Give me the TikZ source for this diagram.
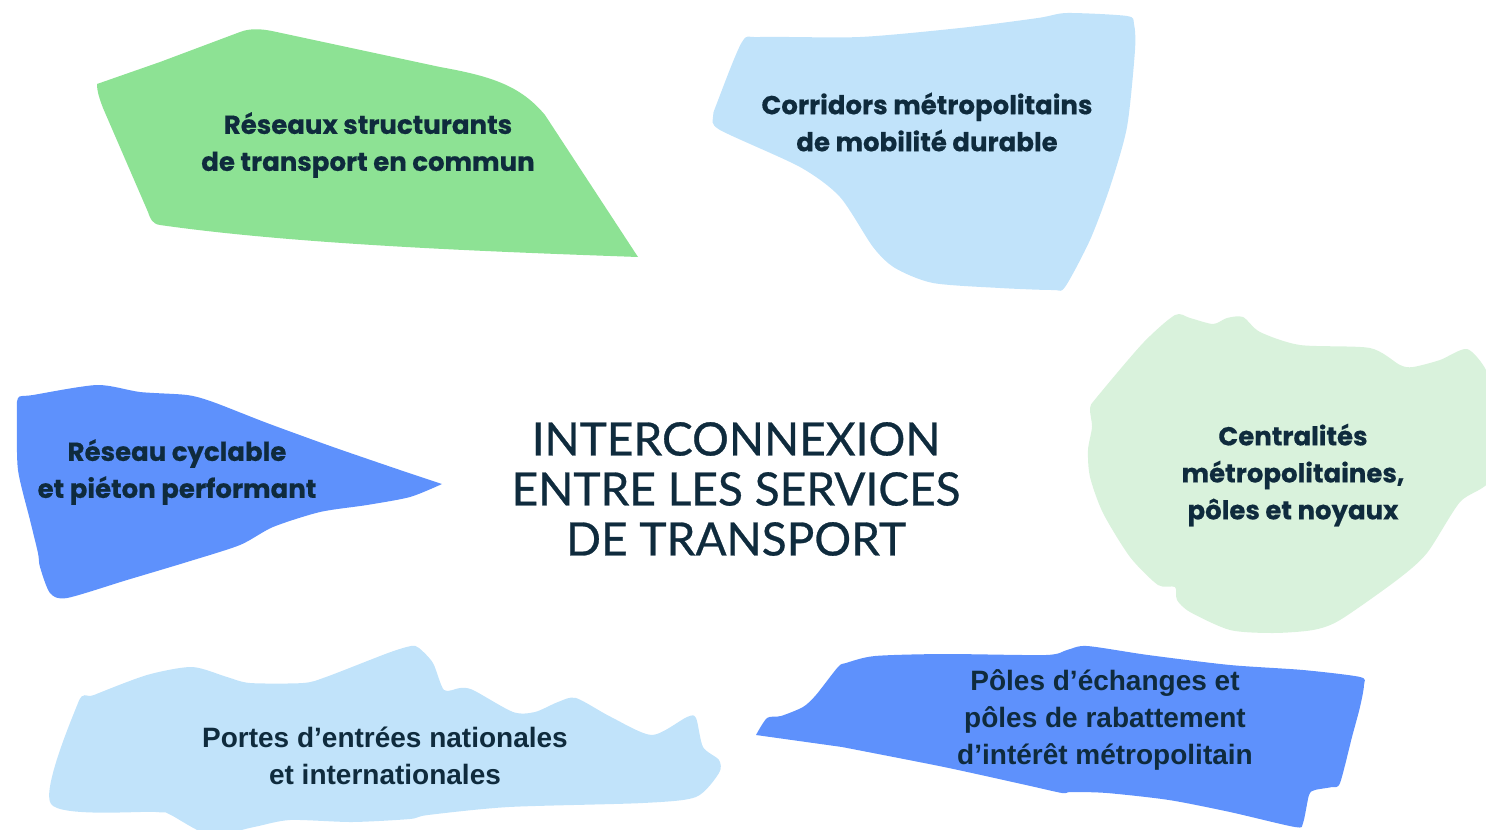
\documentclass[tikz,border=0pt]{standalone}
\usepackage{fontspec}
\setmainfont{Poppins}[BoldFeatures={FakeBold=0.5}]
\newfontfamily\titlefont{Lato}[FakeBold=0.6]
\newfontfamily\narrowfont{Liberation Sans}

\definecolor{ink}{RGB}{15,43,61}
\definecolor{leafgreen}{RGB}{141,226,148}
\definecolor{paleblue}{RGB}{193,227,250}
\definecolor{palegreen}{RGB}{217,242,220}
\definecolor{brightblue}{RGB}{94,145,252}

\tikzset{every picture/.style={line width=0.75pt},
  wide label/.style={align=center, text=ink, inner sep=0.75pt, font=\bfseries\fontsize{19.5}{27.75}\selectfont},
  narrow label/.style={align=center, text=ink, inner sep=0.75pt, font=\narrowfont\bfseries\fontsize{21}{27.75}\selectfont},
  title label/.style={align=center, text=ink, inner sep=0.75pt, font=\titlefont\fontsize{34.5}{37.5}\selectfont}}

\begin{document}
\begin{tikzpicture}[x=0.75pt,y=0.75pt,yscale=-1,xscale=1]
\useasboundingbox (0,0) rectangle (1486,829);
\clip (0,0) rectangle (1486,829);

%Shape: Free Drawing [green, top left]
\fill [leafgreen] (97,84) -- (160,62) -- (240,32) .. controls (250,28) and (262,29) .. (272,31) -- (440,67) .. controls (490,76) and (520,85) .. (545,115) -- (638,257) .. controls (500,252) and (300,245) .. (160,225) .. controls (152,224) and (150,218) .. (148,212) -- (103,108) .. controls (100,100) and (97,92) .. (97,84) -- cycle ;
%Shape: Free Drawing [pale blue, top right]
\fill [paleblue] plot [smooth cycle, tension=0.45] coordinates {(742,42) (760,37) (860,37) (960,28) (1038,18) (1067,13) (1127,16) (1134,24) (1135,50) (1127,127) (1110,187) (1090,240) (1065,287) (1053,290) (1000,288) (933,283) (895,268) (873,247) (840,197) (800,167) (720,130) (713,117) (717,103)} ;
%Shape: Free Drawing [pale green, right]
\fill [palegreen] plot [smooth cycle, tension=0.45] coordinates {(1175,315) (1190,318) (1213,324) (1227,318) (1243,317) (1260,332) (1300,345) (1370,348) (1400,365) (1413,367) (1440,360) (1467,349) (1486,370) (1492,400) (1492,477) (1460,502) (1427,553) (1397,580) (1340,620) (1313,630) (1273,633) (1230,630) (1190,612) (1177,600) (1175,587) (1158,585) (1130,557) (1103,513) (1090,477) (1088,450) (1092,427) (1090,408) (1097,397) (1143,343)} ;
%Shape: Free Drawing [blue, left]
\fill [brightblue] plot [smooth, tension=0.45] coordinates {(442,484) (410,497) (367,505) (320,512) (273,527) (240,545) (187,562) (127,580) (67,598) (50,593) (40,567) (38,553) (30,520) (18,470) (17,420) (18,398) (33,395) (97,385) (140,392) (187,395) (213,402) (267,423) (333,447) (400,470)} -- cycle ;
%Shape: Free Drawing [pale blue, bottom left]
\fill [paleblue] plot [smooth cycle, tension=0.45] coordinates {(78,703) (94,695) (147,675) (192,667) (227,677) (250,683) (303,683) (326,677) (388,653) (411,646) (419,648) (433,663) (444,690) (460,688) (473,690) (513,712) (535,712) (558,702) (576,698) (611,717) (652,735) (687,717) (696,718) (703,747) (719,760) (719,773) (696,797) (643,803) (509,807) (428,815) (410,819) (352,822) (290,820) (254,827) (210,835) (169,814) (156,812) (51,804)} ;
%Shape: Free Drawing [blue, bottom right]
\fill [brightblue] plot [smooth, tension=0.45] coordinates {(756,735) (767,718) (781,716) (803,707) (816,695) (838,667) (846,663) (875,656) (944,654) (1046,655) (1067,650) (1087,646) (1148,655) (1230,665) (1303,670) (1360,677) (1364,685) (1360,707) (1352,737) (1340,783) (1332,787) (1315,790) (1309,795) (1303,823) (1295,827) (1230,812) (1169,800) (1107,793) (1071,792) (1062,793) (1026,785) (944,767) (842,747)} -- cycle ;

% Text Node
\node (transit) [wide label] at (368,145) {Réseaux structurants\\de transport en commun};
% Text Node
\node (corridors) [wide label] at (927,122) {Corridors métropolitains\\de mobilité durable};
% Text Node
\node (centres) [wide label] at (1293,475) {Centralités\\métropolitaines,\\pôles et noyaux};
% Text Node
\node (cycling) [wide label] at (177,472) {Réseau cyclable\\et piéton performant};
% Text Node
\node (gateways) [narrow label] at (385,756) {Portes d’entrées nationales\\et internationales};
% Text Node
\node (hubs) [narrow label] at (1105,720) {Pôles d’échanges et\\pôles de rabattement\\d’intérêt métropolitain};
% Text Node
\node (title) [title label] at (736,489) {INTERCONNEXION\\ENTRE LES SERVICES\\DE TRANSPORT};

\end{tikzpicture}
\end{document}
